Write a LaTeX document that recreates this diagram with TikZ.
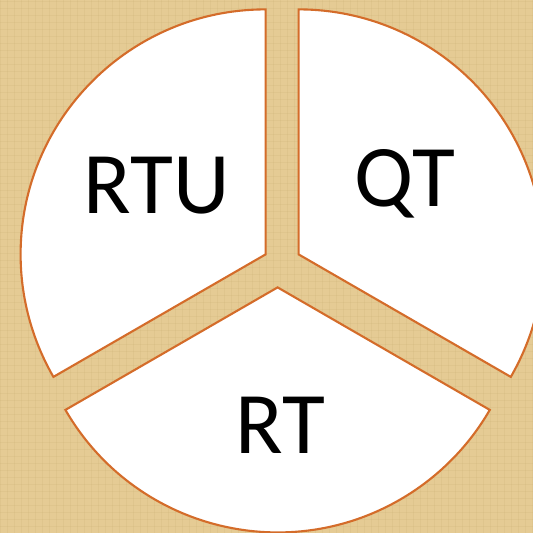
\documentclass[tikz,border=0pt]{standalone}
\usepackage{fontspec}
\setmainfont{Carlito}

\definecolor{parchment}{RGB}{229,203,148}
\definecolor{weave}{RGB}{196,170,110}
\definecolor{rim}{RGB}{212,108,42}

\tikzset{
    slice/.style={draw=rim, line width=1.2pt, fill=white, line join=miter},
    slicetext/.style={font=\fontsize{50}{60}\selectfont, anchor=base, inner sep=0pt}
}

\begin{document}
\begin{tikzpicture}[x=0.02cm, y=0.02cm]
    \useasboundingbox (0,0) rectangle (533,533);
    \fill[parchment] (0,0) rectangle (533,533);
    % faint woven texture
    \foreach \k in {0,7,...,533} {
        \draw[weave, opacity=.18, line width=.4pt] (\k,0) -- (\k,533);
        \draw[weave, opacity=.18, line width=.4pt] (0,\k) -- (533,\k);
    }
    \coordinate (A) at (265.6,278.6);
    \coordinate (B) at (298.6,278.6);
    \coordinate (C) at (277.6,245.6);
    \draw[slice] (A) -- ++(90:245) arc[start angle=90, end angle=210, radius=245] -- cycle;
    \draw[slice] (B) -- ++(-30:245) arc[start angle=-30, end angle=90, radius=245] -- cycle;
    \draw[slice] (C) -- ++(210:245) arc[start angle=210, end angle=330, radius=245] -- cycle;
    \node[slicetext] (rtu) at (156.5,319.7) {RTU};
    \node[slicetext] (qt) at (404.8,326.5) {QT};
    \node[slicetext] (rt) at (280.6,79) {RT};
\end{tikzpicture}
\end{document}
